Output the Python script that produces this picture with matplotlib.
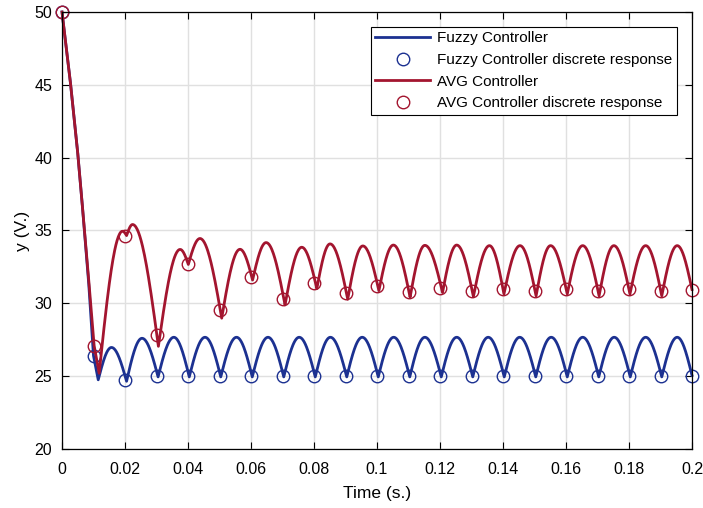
import numpy as np
import matplotlib
matplotlib.use("Agg")
import matplotlib.pyplot as plt

plt.rcParams['font.family'] = ['Liberation Sans', 'DejaVu Sans']

# sampled (discrete) responses, every 0.01 s
t_samples = [0.00, 0.01, 0.02, 0.03, 0.04, 0.05, 0.06, 0.07, 0.08, 0.09, 0.10,
             0.11, 0.12, 0.13, 0.14, 0.15, 0.16, 0.17, 0.18, 0.19, 0.20]
fuzzy_samples = [50.0, 26.4, 24.75, 25.0, 25.0, 25.0, 25.0, 25.0, 25.0, 25.0, 25.0,
                 25.0, 25.0, 25.0, 25.0, 25.0, 25.0, 25.0, 25.0, 25.0, 25.0]
avg_samples = [50.0, 27.08, 34.63, 27.85, 32.72, 29.52, 31.8, 30.28, 31.38, 30.69, 31.19,
               30.8, 31.04, 30.87, 30.97, 30.87, 30.97, 30.87, 30.97, 30.87, 30.92]

# initial fall from 50 V down to the first cusp
fuzzy_drop_t = [0.0, 0.0027, 0.0050, 0.0065, 0.0085, 0.0100, 0.0115]
fuzzy_drop_v = [50.0, 45.1, 40.3, 36.6, 31.3, 26.4, 24.75]
avg_drop_t = [0.0, 0.0027, 0.0050, 0.0065, 0.0086, 0.0102, 0.0118]
avg_drop_v = [50.0, 45.1, 40.3, 36.6, 31.3, 27.1, 25.2]

# cusps (minima) and arch tops of the continuous responses
fuzzy_cusp_t = [0.0115, 0.0205, 0.0305, 0.0404, 0.0504, 0.0604, 0.0704, 0.0804, 0.0904,
                0.1004, 0.1104, 0.1204, 0.1304, 0.1404, 0.1504, 0.1604, 0.1704, 0.1804,
                0.1904, 0.2000]
fuzzy_cusp_v = [24.75, 24.65, 24.95, 24.95, 24.95, 24.95, 24.95, 24.95, 24.95,
                24.95, 24.95, 24.95, 24.95, 24.95, 24.95, 24.95, 24.95, 24.95,
                24.95, 25.05]
fuzzy_peak_t = [0.0157, 0.0254, 0.0355, 0.0454, 0.0554, 0.0654, 0.0753, 0.0852, 0.0953,
                0.1053, 0.1152, 0.1253, 0.1353, 0.1453, 0.1553, 0.1653, 0.1753, 0.1853,
                0.1953]
fuzzy_peak_v = [26.97, 27.6, 27.67, 27.67, 27.67, 27.67, 27.67, 27.67, 27.67,
                27.67, 27.67, 27.67, 27.67, 27.67, 27.67, 27.67, 27.67, 27.67,
                27.67]

avg_cusp_t = [0.0118, 0.0205, 0.0306, 0.0401, 0.0507, 0.0605, 0.0708, 0.0809, 0.0907,
              0.1006, 0.1105, 0.1208, 0.1306, 0.1403, 0.1505, 0.1604, 0.1705, 0.1803,
              0.1904, 0.2000]
avg_cusp_v = [25.2, 34.65, 27.05, 32.67, 28.98, 31.6, 29.89, 31.01, 30.28,
              30.87, 30.42, 30.74, 30.46, 30.64, 30.51, 30.64, 30.51, 30.64,
              30.51, 30.95]
avg_peak_t = [0.0192, 0.0224, 0.0375, 0.0438, 0.0565, 0.0648, 0.0761, 0.0851, 0.0955,
              0.1052, 0.1152, 0.1253, 0.1357, 0.1454, 0.1551, 0.1653, 0.1752, 0.1853,
              0.1953]
avg_peak_v = [34.95, 35.41, 33.7, 34.45, 33.71, 34.17, 33.85, 34.08, 33.94,
              34.0, 33.98, 34.0, 33.96, 33.96, 33.96, 33.96, 33.96, 33.96,
              33.96]

xtick_vals = [0, 0.02, 0.04, 0.06, 0.08, 0.1, 0.12, 0.14, 0.16, 0.18, 0.2]
xtick_labels = ['0', '0.02', '0.04', '0.06', '0.08', '0.1', '0.12', '0.14', '0.16', '0.18', '0.2']
ytick_vals = [20, 25, 30, 35, 40, 45, 50]


def arches(cusp_t, cusp_v, peak_t, peak_v, n=40):
    # rounded hump between two cusps (quarter sine up, quarter sine down)
    tt, yy = [], []
    for i in range(len(peak_t)):
        t0, t1, tp = cusp_t[i], cusp_t[i + 1], peak_t[i]
        v0, v1, h = cusp_v[i], cusp_v[i + 1], peak_v[i]
        s = np.linspace(0, 1, n)
        tt.append(t0 + s * (tp - t0))
        yy.append(v0 + (h - v0) * np.sin(np.pi / 2 * s))
        tt.append(tp + s[1:] * (t1 - tp))
        yy.append(v1 + (h - v1) * np.cos(np.pi / 2 * s[1:]))
    return np.concatenate(tt), np.concatenate(yy)


def response(drop_t, drop_v, cusp_t, cusp_v, peak_t, peak_v):
    at, av = arches(cusp_t, cusp_v, peak_t, peak_v)
    return np.concatenate([drop_t[:-1], at]), np.concatenate([drop_v[:-1], av])


blue = '#1c3191'
red = '#a3152f'

fig = plt.figure(figsize=(7.03, 5.08), dpi=100)
ax = fig.add_axes([62 / 703, 59 / 508, 630 / 703, 437 / 508])

ft, fv = response(fuzzy_drop_t, fuzzy_drop_v, fuzzy_cusp_t, fuzzy_cusp_v, fuzzy_peak_t, fuzzy_peak_v)
rt, rv = response(avg_drop_t, avg_drop_v, avg_cusp_t, avg_cusp_v, avg_peak_t, avg_peak_v)

ax.plot(ft, fv, color=blue, lw=2, label='Fuzzy Controller')
ax.plot(t_samples, fuzzy_samples, 'o', ms=9, mfc='none', mec=blue, mew=1,
        label='Fuzzy Controller discrete response')
ax.plot(rt, rv, color=red, lw=2, label='AVG Controller')
ax.plot(t_samples, avg_samples, 'o', ms=9, mfc='none', mec=red, mew=1,
        label='AVG Controller discrete response')

ax.set_xlim(0, 0.2)
ax.set_ylim(20, 50)
ax.set_xticks(xtick_vals)
ax.set_xticklabels(xtick_labels)
ax.set_yticks(ytick_vals)
ax.tick_params(direction='in', top=True, right=True, length=5, width=0.8,
               labelsize=11.5, colors='black')
ax.tick_params(axis='x', pad=9)
ax.tick_params(axis='y', pad=7)
ax.grid(True, color='#e0e0e0', lw=1)
ax.set_axisbelow(True)
for sp in ax.spines.values():
    sp.set_linewidth(0.9)
ax.set_xlabel('Time (s.)', fontsize=12.5, labelpad=7)
ax.set_ylabel('y (V.)', fontsize=12.5, labelpad=3)
for line in ax.lines:
    line.set_clip_on(False)

leg = ax.legend(loc='upper right', bbox_to_anchor=(0.976, 0.966), fontsize=11,
                frameon=True, fancybox=False, edgecolor='black', framealpha=1,
                handlelength=3.6, handletextpad=0.45, borderpad=0.3, labelspacing=0.5,
                borderaxespad=0)
leg.get_frame().set_linewidth(0.8)

fig.savefig('out.png', dpi=100)
